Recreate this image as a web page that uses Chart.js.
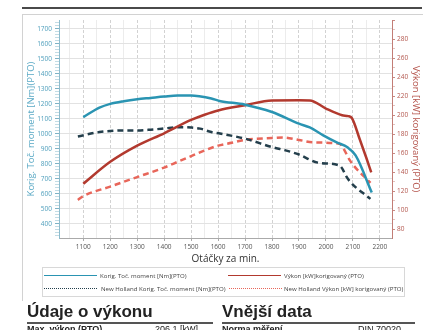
<!DOCTYPE html>
<html lang="cs">
<head>
<meta charset="UTF-8">
<title>Výkonová charakteristika</title>
<script src="https://cdn.jsdelivr.net/npm/chart.js"></script>
<style>
  body { margin: 0; background: #fff; font-family: "Liberation Sans", Arial, sans-serif; }
  #page { position: relative; width: 440px; height: 330px; overflow: hidden; }
  .abs { position: absolute; }
  #topline { left: 22px; top: 7px; width: 400px; height: 2px; background: #4a4a4a; }
  #frame { left: 22px; top: 14px; width: 400px; height: 286px; border-top: 1px solid #d2d2d2; border-left: 1px solid #d2d2d2; }
  #chart { left: 0; top: 0; }
  #legend { left: 42px; top: 267px; width: 361px; height: 28px; border: 1px solid #d8d8d8; }
  .lg-line { position: absolute; height: 0; }
  .lg-text { position: absolute; font-family: "Open Sans", sans-serif; font-size: 6.1px; line-height: 9px; color: #444; white-space: nowrap; }
  h2 { position: absolute; margin: 0; font-size: 17px; line-height: 18px; font-weight: bold; color: #222; }
  .rule { position: absolute; height: 2px; background: #555; }
  .row { position: absolute; font-size: 9px; line-height: 11px; color: #222; white-space: nowrap; }
  .row b { font-weight: bold; }
</style>
</head>
<body>
<div id="page">
  <div id="topline" class="abs"></div>
  <div id="frame" class="abs"></div>
  <canvas id="chart" class="abs" width="440" height="268"></canvas>

  <div id="legend" class="abs"></div>

  <h2 style="left:27px; top:303px;">Údaje o výkonu</h2>
  <div class="rule" style="left:27px; top:322px; width:186px;"></div>
  <div class="row" style="left:27px; top:324px;"><b>Max. výkon (PTO)</b></div>
  <div class="row" style="left:155px; top:324px;">206.1 [kW]</div>

  <h2 style="left:222px; top:303px;">Vnější data</h2>
  <div class="rule" style="left:222px; top:322px; width:193px;"></div>
  <div class="row" style="left:222px; top:324px;"><b>Norma měření</b></div>
  <div class="row" style="left:358px; top:324px;">DIN 70020</div>
</div>

<script>
  // engine speed tick labels and axis ticks
  const rpmTicks = [1100, 1200, 1300, 1400, 1500, 1600, 1700, 1800, 1900, 2000, 2100, 2200];
  const torqueTicks = [400, 500, 600, 700, 800, 900, 1000, 1100, 1200, 1300, 1400, 1500, 1600, 1700];
  const powerTicks = [80, 100, 120, 140, 160, 180, 200, 220, 240, 260, 280];

  // corrected torque [Nm]
  const torqueRpm = [1100, 1160, 1200, 1250, 1300, 1350, 1400, 1450, 1500, 1530, 1575, 1605, 1700, 1800, 1900, 1940, 1990, 2040, 2080, 2110, 2170];
  const torqueNm  = [1112, 1175, 1200, 1218, 1231, 1240, 1249, 1256, 1256, 1251, 1236, 1220, 1195, 1146, 1068, 1043, 990, 943, 910, 856, 608];

  // corrected power [kW]
  const powerRpm = [1100, 1200, 1300, 1400, 1500, 1550, 1600, 1700, 1800, 1900, 1940, 2000, 2060, 2082, 2096, 2125, 2150, 2168];
  const powerKw  = [128, 151, 168, 181, 195, 200.5, 205, 210.5, 215.5, 215.6, 215.5, 207, 200, 199, 197, 175, 155, 140];

  // New Holland corrected torque [Nm]
  const nhTorqueRpm = [1080, 1160, 1200, 1250, 1300, 1350, 1400, 1450, 1500, 1533, 1575, 1607, 1700, 1800, 1850, 1900, 1970, 2050, 2060, 2075, 2090, 2165];
  const nhTorqueNm  = [983, 1012, 1019, 1023, 1023, 1028, 1036, 1045, 1042, 1035, 1012, 1002, 968, 912, 890, 862, 808, 789, 770, 718, 680, 566];

  // New Holland corrected power [kW]
  const nhPowerRpm = [1080, 1100, 1200, 1300, 1400, 1450, 1500, 1550, 1600, 1650, 1700, 1800, 1840, 1900, 1950, 2050, 2063, 2090, 2165];
  const nhPowerKw  = [111, 115, 125, 135, 145, 151, 157, 163, 168, 171, 174, 176, 176.6, 174, 171.5, 170, 166, 152, 129];

  const series = [
    { label: 'Korig. Toč. moment [Nm](PTO)', rpm: torqueRpm, vals: torqueNm, axis: 'y', color: '#2a94b2', dash: [] },
    { label: 'Výkon [kW]korigovaný (PTO)', rpm: powerRpm, vals: powerKw, axis: 'y1', color: '#b2392e', dash: [] },
    { label: 'New Holland Korig. Toč. moment [Nm](PTO)', rpm: nhTorqueRpm, vals: nhTorqueNm, axis: 'y', color: '#243f4c', dash: [6, 4] },
    { label: 'New Holland Výkon [kW] korigovaný (PTO)', rpm: nhPowerRpm, vals: nhPowerKw, axis: 'y1', color: '#e8665a', dash: [6, 4] }
  ];

  const tickFont = { family: 'Open Sans', size: 6.5 };
  Chart.defaults.font.family = 'Open Sans';

  // minor tick positions along the value axes
  const torqueMinor = [];
  for (let v = 320; v <= 1750; v += 20) torqueMinor.push(v);
  const powerMinor = [];
  for (let v = 80; v <= 300; v += 10) powerMinor.push(v);

  new Chart(document.getElementById('chart'), {
    type: 'line',
    data: {
      datasets: series.map(s => ({
        label: s.label,
        data: s.rpm.map((x, i) => ({ x: x, y: s.vals[i] })),
        yAxisID: s.axis,
        borderColor: s.color,
        backgroundColor: s.color,
        borderWidth: 2.5,
        borderDash: s.dash,
        pointRadius: 0,
        fill: false,
        cubicInterpolationMode: 'monotone'
      }))
    },
    options: {
      responsive: false,
      animation: false,
      devicePixelRatio: 1,
      layout: { padding: { top: 20, left: 0, right: 0, bottom: 0 } },
      plugins: { legend: { display: false }, tooltip: { enabled: false } },
      scales: {
        x: {
          type: 'linear', position: 'bottom', min: 1010, max: 2245,
          afterBuildTicks: s => { s.ticks = rpmTicks.map(v => ({ value: v })); },
          afterFit: s => { s.height = 30; },
          grid: { color: '#d2d2d2', tickColor: '#aaa', tickLength: 3 },
          border: { color: '#aaa', dash: [3, 2] },
          ticks: { color: '#555', font: tickFont, padding: 2, maxRotation: 0, autoSkip: false, callback: v => String(v) },
          title: { display: true, text: 'Otáčky za min.', color: '#333', font: { size: 10 }, padding: { top: 0, bottom: 3 } }
        },
        xm: {
          type: 'linear', position: 'bottom', min: 1010, max: 2245,
          afterBuildTicks: s => { s.ticks = rpmTicks.map(v => ({ value: v - 50 })); },
          afterFit: s => { s.height = 0; },
          grid: { color: '#ececec', drawTicks: false },
          border: { display: false },
          ticks: { display: false }
        },
        y: {
          position: 'left', min: 305, max: 1760,
          afterBuildTicks: s => { s.ticks = torqueMinor.map(v => ({ value: v })); },
          afterFit: s => { s.width = 59; },
          grid: {
            color: c => (c.tick && c.tick.value % 100 === 0) ? '#e2e2e2' : 'rgba(0,0,0,0)',
            tickColor: c => (c.tick && c.tick.value % 100 === 0) ? '#7fb3c6' : '#c3dce5',
            tickLength: 4
          },
          border: { color: '#8dbccd' },
          ticks: {
            autoSkip: false, padding: 3, color: '#4f9fbc', font: tickFont,
            callback: v => torqueTicks.includes(v) ? String(v) : ''
          },
          title: { display: true, text: 'Korig. Toč. moment [Nm](PTO)', color: '#5aa9c5', font: { size: 9.5 }, padding: { top: 26, bottom: 0 } }
        },
        y1: {
          position: 'right', min: 71, max: 300,
          afterBuildTicks: s => { s.ticks = powerMinor.map(v => ({ value: v })); },
          afterFit: s => { s.width = 48; },
          grid: {
            drawOnChartArea: false,
            tickColor: c => (c.tick && c.tick.value % 20 === 0) ? '#c98a84' : '#e3c2be',
            tickLength: 3
          },
          border: { color: '#c27d76' },
          ticks: {
            autoSkip: false, padding: 2, color: '#b3574e', font: tickFont,
            callback: v => powerTicks.includes(v) ? String(v) : ''
          },
          title: { display: true, text: 'Výkon [kW] korigovaný (PTO)', color: '#b4534b', font: { size: 9.5 }, padding: { top: 19, bottom: 0 } }
        }
      }
    }
  });

  // legend in two columns below the plot
  const legend = document.getElementById('legend');
  const slots = [
    { lx: 1, tx: 57, ty: 3 },
    { lx: 185, tx: 241, ty: 3 },
    { lx: 1, tx: 58, ty: 16 },
    { lx: 186, tx: 241, ty: 16 }
  ];
  series.forEach((s, i) => {
    const p = slots[i];
    const line = document.createElement('div');
    line.className = 'lg-line';
    line.style.left = p.lx + 'px';
    line.style.top = (p.ty + 4) + 'px';
    line.style.width = '53px';
    line.style.borderTop = '1px ' + (s.dash.length ? 'dotted ' : 'solid ') + s.color;
    legend.appendChild(line);
    const text = document.createElement('div');
    text.className = 'lg-text';
    text.style.left = p.tx + 'px';
    text.style.top = p.ty + 'px';
    text.textContent = s.label;
    legend.appendChild(text);
  });
</script>
</body>
</html>
